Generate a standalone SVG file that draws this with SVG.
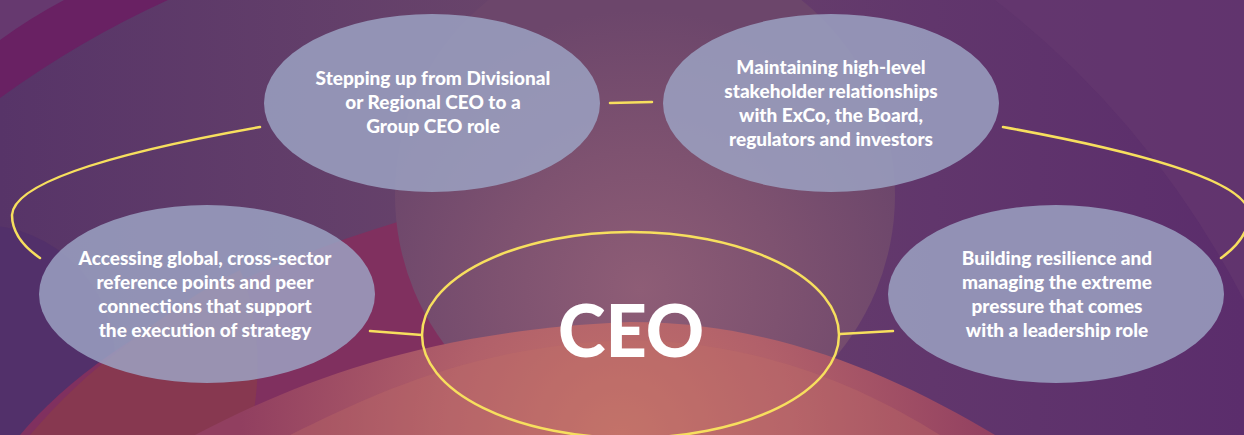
<svg xmlns="http://www.w3.org/2000/svg" width="1244" height="435" viewBox="0 0 1244 435">
  <defs>
    <linearGradient id="bgBase" x1="0" y1="0" x2="1" y2="0">
      <stop offset="0" stop-color="#573468"/>
      <stop offset="0.45" stop-color="#6b466b"/>
      <stop offset="0.75" stop-color="#61366c"/>
      <stop offset="1" stop-color="#5b2d6c"/>
    </linearGradient>
    <radialGradient id="centerGlow" gradientUnits="userSpaceOnUse" cx="640" cy="290" r="280">
      <stop offset="0" stop-color="#8e5d76"/>
      <stop offset="0.5" stop-color="#7e5270"/>
      <stop offset="1" stop-color="#6c466b"/>
    </radialGradient>
    <radialGradient id="coral" gradientUnits="userSpaceOnUse" cx="620" cy="440" r="380">
      <stop offset="0" stop-color="#c4746b"/>
      <stop offset="0.45" stop-color="#b1606a"/>
      <stop offset="1" stop-color="#913f60"/>
    </radialGradient>
    <style>
      .node { fill: #9ca3c4; fill-opacity: 0.84; }
      .label { font-family: Lato, "Liberation Sans", sans-serif; font-weight: 900; font-size: 19px; fill: #ffffff; text-anchor: middle; }
      .link { fill: none; stroke: #f7df5e; stroke-width: 2.5; stroke-linecap: round; }
      .hub { fill: none; stroke: #f7df5e; stroke-width: 2.5; }
      .hubText { font-family: Lato, "Liberation Sans", sans-serif; font-weight: 900; font-size: 72px; fill: #ffffff; text-anchor: middle; }
    </style>
  </defs>

  <!-- background -->
  <g id="background">
    <rect width="1244" height="435" fill="url(#bgBase)"/>
    <!-- lighter top-left corner and magenta band -->
    <path d="M0,0 H70 Q30,20 0,45 Z" fill="#66396f"/>
    <path d="M0,40 Q30,18 64,0 H168 Q80,40 0,98 Z" fill="#692163"/>
    <!-- broad right-hand panel -->
    <path d="M995,0 H1244 V300 Q1150,120 995,0 Z" fill="#66386f" opacity="0.6"/>
    <!-- dark circle on the left -->
    <circle cx="-20" cy="360" r="135" fill="#52306a"/>
    <!-- magenta sweep rising from bottom-left -->
    <path d="M20,435 C90,350 250,250 520,190 L700,320 L520,435 Z" fill="#80305f"/>
    <!-- brick-red lobe inside the sweep -->
    <path d="M30,435 C60,400 90,372 120,350 C170,310 210,285 240,270 C262,320 262,390 248,435 Z" fill="#873850"/>
    <!-- large central disc -->
    <circle cx="645" cy="195" r="250" fill="url(#centerGlow)"/>
    <!-- coral glow at the bottom -->
    <path d="M195,435 C300,380 430,330 630,322 C770,322 890,372 995,435 Z" fill="url(#coral)"/>
    <path d="M290,435 C380,390 480,345 630,340 C760,342 860,385 940,435 Z" fill="#c47268" opacity="0.3"/>
  </g>

  <!-- connectors -->
  <g id="connectors">
    <line class="link" x1="610" y1="103" x2="652" y2="102"/>
    <path class="link" d="M260,127 C130,150 14,180 12,215 C12,232 24,247 40,258"/>
    <path class="link" d="M1003,127 C1130,150 1248,180 1249,214 C1249,232 1238,246 1221,258"/>
    <line class="link" x1="370" y1="331" x2="422" y2="335"/>
    <line class="link" x1="840" y1="334" x2="893" y2="331"/>
  </g>

  <!-- nodes -->
  <g id="node-group-ceo">
    <ellipse class="node" cx="432" cy="103" rx="168" ry="89"/>
    <text class="label" x="433" y="85">Stepping up from Divisional</text>
    <text class="label" x="433" y="109">or Regional CEO to a</text>
    <text class="label" x="433" y="133">Group CEO role</text>
  </g>

  <g id="node-stakeholders">
    <ellipse class="node" cx="831" cy="103" rx="168" ry="89"/>
    <text class="label" x="831" y="74">Maintaining high-level</text>
    <text class="label" x="831" y="98">stakeholder relationships</text>
    <text class="label" x="831" y="122">with ExCo, the Board,</text>
    <text class="label" x="831" y="146">regulators and investors</text>
  </g>

  <g id="node-global-reference">
    <ellipse class="node" cx="207" cy="294" rx="168" ry="89"/>
    <text class="label" x="205" y="265">Accessing global, cross-sector</text>
    <text class="label" x="205" y="289">reference points and peer</text>
    <text class="label" x="205" y="313">connections that support</text>
    <text class="label" x="205" y="337">the execution of strategy</text>
  </g>

  <g id="node-resilience">
    <ellipse class="node" cx="1056" cy="294" rx="168" ry="89"/>
    <text class="label" x="1057" y="265">Building resilience and</text>
    <text class="label" x="1057" y="289">managing the extreme</text>
    <text class="label" x="1057" y="313">pressure that comes</text>
    <text class="label" x="1057" y="337">with a leadership role</text>
  </g>

  <g id="node-ceo">
    <ellipse class="hub" cx="630.5" cy="335" rx="208.5" ry="103"/>
    <text class="hubText" x="631" y="357">CEO</text>
  </g>
</svg>
